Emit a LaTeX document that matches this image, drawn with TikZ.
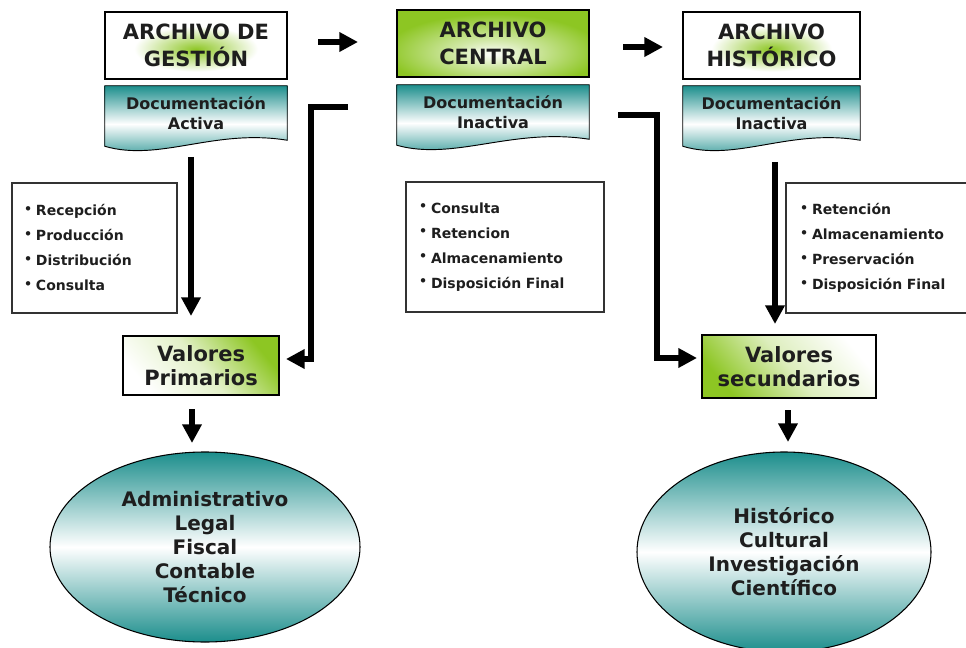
\documentclass[tikz,border=0pt]{standalone}
\usepackage{fontspec}
\setmainfont{DejaVu Sans}
\usetikzlibrary{arrows.meta,shapes.geometric,calc}
\definecolor{agreen}{RGB}{141,198,35}
\definecolor{ateal}{RGB}{28,142,140}
\definecolor{txt}{RGB}{30,30,30}
\pgfdeclareradialshading{glowg}{\pgfpoint{0bp}{-3bp}}{color(0bp)=(agreen); color(5bp)=(agreen!70!white); color(17bp)=(white); color(100bp)=(white)}
\pgfdeclareradialshading{glowc}{\pgfpoint{0bp}{-8bp}}{color(0bp)=(white); color(10bp)=(agreen!40!white); color(28bp)=(agreen); color(100bp)=(agreen)}
\pgfdeclarelayer{background}
\pgfsetlayers{background,main}
\newcommand\bul{\makebox[9pt][l]{\fontsize{9.5}{9.5}\selectfont\raisebox{0.35ex}{•}}}
\begin{document}
\begin{tikzpicture}[x=0.75pt,y=-0.75pt,
  titlebox/.style={draw=black, line width=1.1pt, minimum height=50.25pt, inner sep=0pt, align=center,
    font=\fontsize{15.75}{20.25}\selectfont\bfseries, text=txt},
  glowbox/.style={titlebox, shade, shading=glowg},
  centbox/.style={titlebox, shade, shading=glowc},
  docbox/.style={minimum height=40.5pt, inner sep=0pt, align=center,
    font=\fontsize{12}{15}\selectfont\bfseries, text=txt},
  docshape/.style={draw=black, line width=0.7pt, top color=ateal, bottom color=ateal, middle color=white},
  listbox/.style={draw=black!80, line width=0.9pt, minimum height=97.5pt, inner ysep=0pt, align=left,
    font=\fontsize{10.5}{18.75}\selectfont\bfseries, text=txt},
  valbox/.style={draw=black, line width=1.1pt, inner sep=0pt, align=center,
    font=\fontsize{15.75}{18}\selectfont\bfseries, text=txt},
  ellip/.style={ellipse, draw=black, line width=0.8pt, inner sep=0pt, top color=ateal, bottom color=ateal,
    middle color=white, align=center, font=\fontsize{15}{18}\selectfont\bfseries, text=txt},
  arr/.style={line width=4.5pt, -{Triangle[length=14pt,width=14pt]}}
]
\useasboundingbox (0,0) rectangle (966,648);
\clip (0,0) rectangle (966,648);

% top boxes
\node[glowbox, minimum width=136.5pt] (gest) at (196,45.5) {ARCHIVO DE\\GESTIÓN};
\node[centbox, minimum width=144pt] (cent) at (493,43.5) {ARCHIVO\\CENTRAL};
\node[glowbox, minimum width=132.75pt] (hist) at (771.5,45.5) {ARCHIVO\\HISTÓRICO};

% documentation boxes
\node[docbox, minimum width=136.5pt] (dg) at (196,113) {Documentación\\Activa};
\node[docbox, minimum width=144pt] (dc) at (493,112) {Documentación\\Inactiva};
\node[docbox, minimum width=132.75pt] (dh) at (771.5,113) {Documentación\\Inactiva};
\begin{pgfonlayer}{background}
\foreach \n in {dg,dc,dh}{
  \path[docshape] (\n.north west) -- (\n.north east) -- (\n.south east)
    .. controls ($(\n.south west)!0.6!(\n.south east)+(0,-12)$) and ($(\n.south west)!0.3!(\n.south east)+(0,22)$)
    .. ($(\n.south west)+(0,6)$) -- cycle;
}
\end{pgfonlayer}

% lists
\node[listbox, minimum width=123.75pt, inner xsep=9pt, text width=105.75pt] (lg) at (94.5,248)
  {\bul Recepción\\\bul Producción\\\bul Distribución\\\bul Consulta\\[-4pt]};
\node[listbox, minimum width=148.5pt, inner xsep=9.75pt, text width=129pt] (lc) at (505,247)
  {\bul Consulta\\\bul Retencion\\\bul Almacenamiento\\\bul Disposición Final\\[-4pt]};
\node[listbox, minimum width=141.75pt, inner xsep=10.5pt, text width=120.75pt] (lh) at (880.5,248)
  {\bul Retención\\\bul Almacenamiento\\\bul Preservación\\\bul Disposición Final\\[-4pt]};

% values
\node[valbox, minimum width=117pt, minimum height=44.25pt, shade, shading=axis,
  top color=agreen, bottom color=white, middle color=agreen!25!white, shading angle=-50] (vp) at (201,365.5) {Valores\\Primarios};
\node[valbox, minimum width=130.5pt, minimum height=47.25pt, shade, shading=axis,
  top color=white, bottom color=agreen, middle color=agreen!30!white, shading angle=-50] (vs) at (789,366.5) {Valores\\secundarios};

% ellipses
\node[ellip, minimum width=232.5pt, minimum height=142.5pt] (el) at (205,547)
  {Administrativo\\Legal\\Fiscal\\Contable\\Técnico};
\node[ellip, minimum width=220.5pt, minimum height=150pt] (er) at (784,552)
  {Histórico\\Cultural\\Investigación\\Científico};

% connector end points
\coordinate (a1s) at (318,42);  \coordinate (a1e) at (358,42);
\coordinate (a2s) at (623,47);  \coordinate (a2e) at (663,47);
\coordinate (a3s) at (191,157); \coordinate (a3e) at (191,316);
\coordinate (a4s) at (348,107); \coordinate (a4e) at (286,359);
\coordinate (a5s) at (618,115); \coordinate (a5e) at (697,358);
\coordinate (a6s) at (775,162); \coordinate (a6e) at (775,324);
\coordinate (a7s) at (192,409); \coordinate (a7e) at (192,443);
\coordinate (a8s) at (788,410); \coordinate (a8e) at (788,442);

\draw[arr] (a1s) -- (a1e);
\draw[arr] (a2s) -- (a2e);
\draw[arr] (a3s) -- (a3e);
\draw[arr] (a4s) -- (311,107) -- (311,359) -- (a4e);
\draw[arr] (a5s) -- (657,115) -- (657,358) -- (a5e);
\draw[arr] (a6s) -- (a6e);
\draw[arr] (a7s) -- (a7e);
\draw[arr] (a8s) -- (a8e);
\end{tikzpicture}
\end{document}
